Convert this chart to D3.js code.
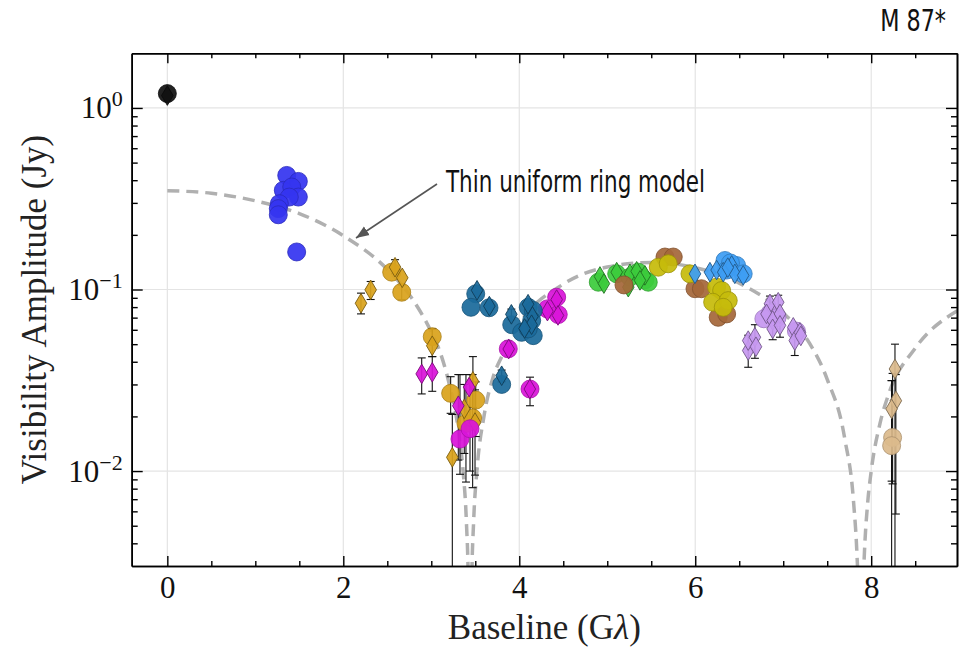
<!DOCTYPE html>
<html>
<head>
<meta charset="utf-8">
<script src="https://cdn.jsdelivr.net/npm/d3@7"></script>
<style>
  body { margin: 0; background: #fff; }
  svg { display: block; }
  .serif { font-family: "Liberation Serif", "Times New Roman", serif; }
  .narrow { font-family: "Liberation Sans Narrow", "DejaVu Sans Condensed", sans-serif; font-stretch: condensed; }
</style>
</head>
<body>
<svg id="chart"></svg>
<script>
// model curve (thin ring, dashed grey)
const modelU = [0, 0.5, 1.0, 1.5, 2.0, 2.5, 2.8, 3.0, 3.1, 3.2, 3.3, 3.36, 3.40, 3.42, 3.44, 3.46, 3.48, 3.52,
  3.6, 3.7, 3.8, 4.0, 4.5, 5.0, 5.5, 6.0, 6.5, 7.0, 7.3, 7.5, 7.7, 7.8, 7.84, 7.86, 7.88, 7.90, 7.92, 7.96,
  8.0, 8.1, 8.2, 8.5, 9.0];
const modelAmp = [0.350, 0.339, 0.308, 0.262, 0.198, 0.129, 0.0865, 0.0583, 0.0452, 0.0307, 0.0178, 0.0102,
  0.0051, 0.0025, 0.0001, 0.0025, 0.0051, 0.0102, 0.0202, 0.0326, 0.0427, 0.0647, 0.107, 0.133, 0.141, 0.132,
  0.1085, 0.0742, 0.0505, 0.0320, 0.0150, 0.0067, 0.0033, 0.0017, 0.0001, 0.0017, 0.0033, 0.0067,
  0.0100, 0.0183, 0.0267, 0.0475, 0.0774];

// points: [baseline Glambda, amplitude Jy, errLow, errHigh]
const blackCircles = [[0, 1.20]];
const blackDiamonds = [[0, 1.17]];

const blueCircles = [[1.357, 0.425], [1.489, 0.394], [1.318, 0.352], [1.414, 0.367], [1.489, 0.323],
  [1.386, 0.323], [1.273, 0.297], [1.261, 0.279], [1.261, 0.258], [1.470, 0.161]];
const blueDiamonds = [];

const goldCircles = [[2.55, 0.1246], [2.664, 0.0966, 0.0879, 0.106], [3.011, 0.055, 0.050, 0.0607],
  [3.22, 0.0268, 0.0208, 0.0331], [3.505, 0.0246, 0.0155, 0.031], [3.394, 0.0183, 0.0087, 0.034],
  [3.47, 0.0196, 0.0081, 0.034]];
const goldDiamonds = [[2.201, 0.084, 0.0734, 0.0955], [2.311, 0.0996, 0.0881, 0.1107],
  [2.588, 0.1327, 0.122, 0.146], [2.67, 0.116], [3.011, 0.049, 0.0427, 0.0607],
  [3.239, 0.0119, 0.0001, 0.0205], [3.473, 0.0312, 0.0224, 0.0427], [3.375, 0.022, 0.0125, 0.030],
  [3.497, 0.0185, 0.0095, 0.028]];

const magentaCircles = [[3.326, 0.0150, 0.0096, 0.034], [3.44, 0.0171, 0.0100, 0.034],
  [3.875, 0.0471, 0.043, 0.052], [4.122, 0.0283, 0.0229, 0.0329], [4.425, 0.0907],
  [4.318, 0.0782], [4.443, 0.0728]];
const magentaDiamonds = [[2.891, 0.0343, 0.0266, 0.042], [3.011, 0.035, 0.0275, 0.0427],
  [3.307, 0.0229, 0.0115, 0.034], [3.43, 0.029], [3.88, 0.047], [4.12, 0.0283],
  [4.425, 0.088], [4.32, 0.076], [4.44, 0.072]];

const tealCircles = [[3.505, 0.0947], [3.451, 0.0798], [3.656, 0.0793], [3.914, 0.064], [4.102, 0.0798],
  [4.159, 0.0766], [4.141, 0.0675], [4.027, 0.0581], [4.159, 0.0557], [4.102, 0.0607], [3.80, 0.030]];
const tealDiamonds = [[3.52, 0.099], [3.66, 0.081], [3.91, 0.073, 0.068, 0.078], [4.10, 0.083],
  [4.15, 0.071], [4.14, 0.064], [4.06, 0.061], [3.80, 0.0335, 0.031, 0.036]];

const greenCircles = [[4.898, 0.1097], [5.107, 0.122], [5.258, 0.117], [5.352, 0.1246],
  [5.428, 0.1131], [5.466, 0.1097]];
const greenDiamonds = [[4.917, 0.118], [4.962, 0.1078], [5.107, 0.1246], [5.258, 0.122], [5.239, 0.103],
  [5.334, 0.126], [5.428, 0.1196], [5.372, 0.1123]];

const brownCircles = [[5.19, 0.106], [5.656, 0.151], [5.75, 0.151], [5.997, 0.101], [6.07, 0.101],
  [6.261, 0.0703], [6.357, 0.0734]];

const oliveCircles = [[5.58, 0.1327], [5.693, 0.1386], [5.94, 0.122], [6.243, 0.103], [6.30, 0.0987],
  [6.198, 0.0851], [6.375, 0.0869], [6.318, 0.0798]];

const skyCircles = [[6.338, 0.1445], [6.47, 0.1356], [6.545, 0.122], [6.357, 0.128], [6.40, 0.140]];
const skyDiamonds = [[5.997, 0.122], [6.167, 0.1246], [6.243, 0.128], [6.318, 0.1246], [6.414, 0.1356],
  [6.45, 0.122], [6.545, 0.1196], [6.37, 0.132]];

const lavenderCircles = [[6.85, 0.074], [6.93, 0.070], [6.78, 0.069], [7.15, 0.059]];
const lavenderDiamonds = [[6.849, 0.0834, 0.075, 0.092], [6.943, 0.0851, 0.077, 0.093], [6.81, 0.0734],
  [6.88, 0.0675], [6.963, 0.0734], [6.88, 0.0607, 0.0529, 0.069], [6.963, 0.0635, 0.0546, 0.072],
  [6.602, 0.0461, 0.0373, 0.056], [6.602, 0.0523], [6.678, 0.0546, 0.0418, 0.064], [6.69, 0.0484],
  [7.114, 0.0619], [7.131, 0.0523, 0.0433, 0.060], [7.19, 0.058], [7.20, 0.0555]];

const tanCircles = [[8.243, 0.0153, 0.0085, 0.0345], [8.232, 0.0138, 0.0001, 0.0315]];
const tanDiamonds = [[8.27, 0.0365, 0.0001, 0.050], [8.28, 0.0244, 0.0058, 0.034], [8.232, 0.022, 0.0088, 0.0315]];

const xTicks = [0, 2, 4, 6, 8];
const yTicks = [1, 0.1, 0.01];
const yTickExp = ["0", "\u22121", "\u22122"];

const palette = {
  black: "#111111", blue: "#3535f0", gold: "#d9a31c", magenta: "#d914d9", teal: "#1b6b9b",
  green: "#3ccb3c", brown: "#a5673a", olive: "#c6bb0b", sky: "#3d9df3", lavender: "#c698f0", tan: "#dcba8c"
};

const groups = [
  { color: palette.black, circles: blackCircles, diamonds: blackDiamonds },
  { color: palette.blue, circles: blueCircles, diamonds: blueDiamonds },
  { color: palette.gold, circles: goldCircles, diamonds: goldDiamonds },
  { color: palette.magenta, circles: magentaCircles, diamonds: magentaDiamonds },
  { color: palette.teal, circles: tealCircles, diamonds: tealDiamonds },
  { color: palette.green, circles: greenCircles, diamonds: greenDiamonds },
  { color: palette.brown, circles: brownCircles, diamonds: [] },
  { color: palette.olive, circles: oliveCircles, diamonds: [] },
  { color: palette.sky, circles: skyCircles, diamonds: skyDiamonds },
  { color: palette.lavender, circles: lavenderCircles, diamonds: lavenderDiamonds },
  { color: palette.tan, circles: tanCircles, diamonds: tanDiamonds },
];

const width = 961, height = 647;
const plotL = 131.7, plotR = 957, plotT = 53.3, plotB = 566;

const svg = d3.select("#chart").attr("width", width).attr("height", height);
svg.append("rect").attr("width", width).attr("height", height).attr("fill", "#fff");

const x = d3.scaleLinear().domain([-0.405, 8.975]).range([plotL, plotR]);
const y = d3.scaleLog().domain([0.003, 2]).range([plotB, plotT]);

svg.append("clipPath").attr("id", "plotclip")
  .append("rect").attr("x", plotL).attr("y", plotT).attr("width", plotR - plotL).attr("height", plotB - plotT);

// grid
svg.append("g").selectAll("line").data(xTicks).join("line")
  .attr("x1", d => x(d)).attr("x2", d => x(d)).attr("y1", plotT).attr("y2", plotB)
  .attr("stroke", "#e4e4e4").attr("stroke-width", 1.2);
svg.append("g").selectAll("line").data(yTicks).join("line")
  .attr("y1", d => y(d)).attr("y2", d => y(d)).attr("x1", plotL).attr("x2", plotR)
  .attr("stroke", "#e4e4e4").attr("stroke-width", 1.2);

// model curve
const plot = svg.append("g").attr("clip-path", "url(#plotclip)");
const line = d3.line().x(d => x(d[0])).y(d => y(d[1])).curve(d3.curveMonotoneX);
plot.append("path")
  .datum(modelU.map((u, i) => [u, modelAmp[i]]))
  .attr("d", line)
  .attr("fill", "none")
  .attr("stroke", "#b0b0b0")
  .attr("stroke-width", 3.5)
  .attr("stroke-dasharray", "12,7");

// error bars first, under the markers
const allPts = [];
groups.forEach(g => {
  g.circles.forEach(p => allPts.push(p));
  g.diamonds.forEach(p => allPts.push(p));
});
const withErr = allPts.filter(p => p.length === 4);
const eb = plot.append("g").attr("stroke", "#111").attr("stroke-width", 1.1);
eb.selectAll(".ebar").data(withErr).join("line").attr("class", "ebar")
  .attr("x1", d => x(d[0])).attr("x2", d => x(d[0]))
  .attr("y1", d => y(d[2])).attr("y2", d => y(d[3]));
eb.selectAll(".caplo").data(withErr).join("line").attr("class", "caplo")
  .attr("x1", d => x(d[0]) - 4).attr("x2", d => x(d[0]) + 4)
  .attr("y1", d => y(d[2])).attr("y2", d => y(d[2]));
eb.selectAll(".caphi").data(withErr).join("line").attr("class", "caphi")
  .attr("x1", d => x(d[0]) - 4).attr("x2", d => x(d[0]) + 4)
  .attr("y1", d => y(d[3])).attr("y2", d => y(d[3]));

// markers
const diamondPath = "M0,-9.8L5.8,0L0,9.8L-5.8,0Z";
groups.forEach(g => {
  const gg = svg.append("g");
  gg.selectAll("circle").data(g.circles).join("circle")
    .attr("cx", d => x(d[0])).attr("cy", d => y(d[1])).attr("r", 9)
    .attr("fill", g.color).attr("fill-opacity", 0.93)
    .attr("stroke", d3.color(g.color).darker(0.7)).attr("stroke-width", 0.8);
  gg.selectAll("path").data(g.diamonds).join("path")
    .attr("d", diamondPath)
    .attr("transform", d => `translate(${x(d[0])},${y(d[1])})`)
    .attr("fill", g.color).attr("fill-opacity", 0.93)
    .attr("stroke", d3.color(g.color).darker(1.6)).attr("stroke-width", 0.9);
});

// axes: ticks inward on all four sides
const xMinor = d3.range(0, 9.0, 0.5).filter(v => v % 2 !== 0);
const yMinor = [];
[0.001, 0.01, 0.1, 1].forEach(dec => d3.range(2, 10).forEach(m => {
  const v = m * dec;
  if (v > 0.003 && v < 2) yMinor.push(v);
}));

function styleAxis(g) {
  g.select(".domain").attr("stroke", "#000").attr("stroke-width", 1.6);
  g.selectAll(".tick line").attr("stroke", "#000").attr("stroke-width", 1.4);
}

svg.append("g").attr("transform", `translate(0,${plotB})`)
  .call(d3.axisBottom(x).tickValues(xMinor).tickSize(-5).tickSizeOuter(0).tickFormat(""))
  .call(styleAxis);
const xAxis = svg.append("g").attr("transform", `translate(0,${plotB})`)
  .call(d3.axisBottom(x).tickValues(xTicks).tickSize(-10).tickSizeOuter(0).tickPadding(10).tickFormat(d3.format("d")))
  .call(styleAxis);
xAxis.attr("font-family", null).attr("font-size", null);
xAxis.selectAll("text").attr("class", "serif").attr("font-size", 31).attr("fill", "#111");

svg.append("g").attr("transform", `translate(0,${plotT})`)
  .call(d3.axisTop(x).tickValues(xMinor).tickSize(-5).tickSizeOuter(0).tickFormat(""))
  .call(styleAxis);
svg.append("g").attr("transform", `translate(0,${plotT})`)
  .call(d3.axisTop(x).tickValues(xTicks).tickSize(-10).tickSizeOuter(0).tickFormat(""))
  .call(styleAxis);

svg.append("g").attr("transform", `translate(${plotL},0)`)
  .call(d3.axisLeft(y).tickValues(yMinor).tickSize(-6).tickSizeOuter(0).tickFormat(""))
  .call(styleAxis);
const yAxis = svg.append("g").attr("transform", `translate(${plotL},0)`)
  .call(d3.axisLeft(y).tickValues(yTicks).tickSize(-11).tickSizeOuter(0).tickFormat(""))
  .call(styleAxis);
yAxis.attr("font-family", null).attr("font-size", null);
svg.append("g").attr("transform", `translate(${plotR},0)`)
  .call(d3.axisRight(y).tickValues(yMinor).tickSize(-6).tickSizeOuter(0).tickFormat(""))
  .call(styleAxis);
svg.append("g").attr("transform", `translate(${plotR},0)`)
  .call(d3.axisRight(y).tickValues(yTicks).tickSize(-11).tickSizeOuter(0).tickFormat(""))
  .call(styleAxis);

// y tick labels 10^n
yAxis.selectAll(".tick").each(function (d, i) {
  const t = d3.select(this).append("text").attr("class", "serif")
    .attr("x", -9).attr("y", 10).attr("text-anchor", "end")
    .attr("font-size", 31).attr("fill", "#111");
  t.append("tspan").text("10");
  t.append("tspan").attr("dy", -12).attr("font-size", 22).text(yTickExp[i]);
});

// axis titles
const xLab = svg.append("text").attr("class", "serif")
  .attr("x", (plotL + plotR) / 2).attr("y", 639).attr("text-anchor", "middle")
  .attr("font-size", 35).attr("fill", "#222");
xLab.append("tspan").text("Baseline (G");
xLab.append("tspan").attr("font-style", "italic").text("\u03bb");
xLab.append("tspan").text(")");

svg.append("text").attr("class", "serif")
  .attr("transform", `translate(46,${(plotT + plotB) / 2}) rotate(-90)`)
  .attr("text-anchor", "middle").attr("font-size", 35).attr("fill", "#222")
  .text("Visibility Amplitude (Jy)");

// title and annotation
svg.append("text").attr("class", "narrow")
  .attr("transform", "translate(946,31) scale(0.8,1)").attr("text-anchor", "end")
  .attr("font-size", 31).attr("fill", "#111").text("M 87*");

svg.append("text").attr("class", "narrow")
  .attr("x", 446).attr("y", 192).attr("font-size", 30).attr("fill", "#111")
  .attr("textLength", 259).attr("lengthAdjust", "spacingAndGlyphs")
  .text("Thin uniform ring model");

svg.append("defs").append("marker").attr("id", "arrowhead")
  .attr("viewBox", "0 0 10 10").attr("refX", 10).attr("refY", 5)
  .attr("markerWidth", 13).attr("markerHeight", 13).attr("markerUnits", "userSpaceOnUse")
  .attr("orient", "auto")
  .append("path").attr("d", "M0,1L10,5L0,9Z").attr("fill", "#555");
svg.append("line")
  .attr("x1", 437).attr("y1", 184).attr("x2", 356).attr("y2", 238)
  .attr("stroke", "#555").attr("stroke-width", 1.6)
  .attr("marker-end", "url(#arrowhead)");
</script>
</body>
</html>
